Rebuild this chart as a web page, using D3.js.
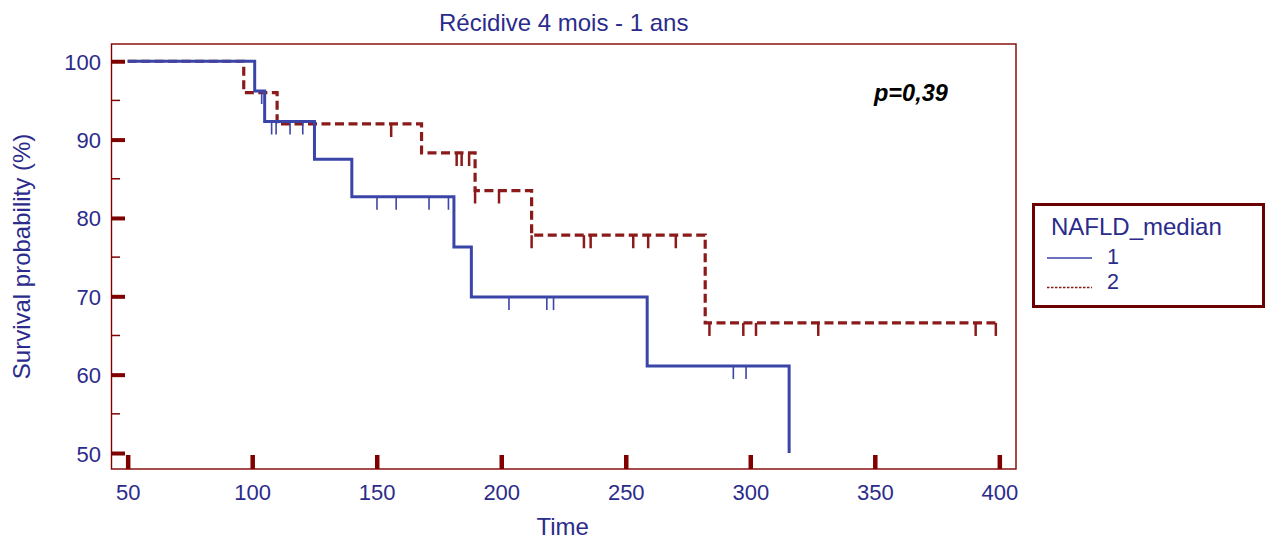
<!DOCTYPE html>
<html>
<head>
<meta charset="utf-8">
<script src="https://cdn.jsdelivr.net/npm/d3@7/dist/d3.min.js"></script>
<style>
  html, body { margin: 0; padding: 0; background: #ffffff; }
  svg { display: block; }
  text { font-family: "Liberation Sans", Arial, sans-serif; }
</style>
</head>
<body>
<svg id="chart" width="1266" height="539"></svg>
<script>
// ---------- data ----------
const chartTitle = "Récidive 4 mois - 1 ans";
const xLabel = "Time";
const yLabel = "Survival probability (%)";
const pText = "p=0,39";
const legendTitle = "NAFLD_median";
const groupNames = ["1", "2"];

const xTicks = [50, 100, 150, 200, 250, 300, 350, 400];
const yTicks = [50, 60, 70, 80, 90, 100];
const yMinorTicks = [55, 65, 75, 85, 95];

// group 1 (solid blue): step times and survival (%) after each step
const times1 = [50, 101, 105, 125, 140, 181, 188, 258.6, 315.6];
const surv1  = [100, 96.2, 92.3, 87.5, 82.7, 76.3, 69.9, 61.1, 50];
const end1 = 315.6;
const censor1 = [103.8, 107.8, 109.6, 115.2, 120.3, 150.1, 157.8, 171, 178.8,
                 203.1, 218.3, 221, 293.2, 298.3];

// group 2 (dashed red)
const times2 = [50, 96.6, 110, 168, 189.5, 212.2, 281.9];
const surv2  = [100, 96, 92, 88.3, 83.5, 77.8, 66.6];
const end2 = 398.6;
const censor2 = [155.8, 182.1, 184.1, 187.1, 189.5, 199.1, 212.2, 233.2, 235.9,
                 253, 259, 270.1, 283.6, 297.2, 302.3, 327.3, 390.5, 398.6];

// ---------- layout / style ----------
const frameColor = "#800000";
const textColor = "#2b2b8c";
const blue = "#3b45a8";
const red = "#8b1a1a";

const svg = d3.select("#chart");
const plot = { left: 111.5, right: 1016, top: 44, bottom: 469 };

const x = d3.scaleLinear().domain([43.5, 406.7]).range([plot.left, plot.right]);
const y = d3.scaleLinear().domain([47.96, 102.2]).range([plot.bottom, plot.top]);

// clip
svg.append("clipPath").attr("id", "clip").append("rect")
  .attr("x", plot.left).attr("y", plot.top)
  .attr("width", plot.right - plot.left).attr("height", plot.bottom - plot.top);

// frame
svg.append("rect")
  .attr("x", plot.left).attr("y", plot.top)
  .attr("width", plot.right - plot.left).attr("height", plot.bottom - plot.top)
  .attr("fill", "none").attr("stroke", frameColor).attr("stroke-width", 1.4);

// y axis (ticks inside)
const yAxis = d3.axisLeft(y).tickValues(yTicks).tickSize(0).tickPadding(0).tickFormat(d3.format("d"));
const gy = svg.append("g").attr("transform", `translate(${plot.left},0)`).call(yAxis);
gy.select(".domain").remove();
gy.selectAll("text").remove();
gy.selectAll(".tick").append("line")
  .attr("x1", 0).attr("x2", 13.5).attr("y1", 0).attr("y2", 0)
  .attr("stroke", frameColor).attr("stroke-width", 4);
gy.selectAll(".tick").append("text")
  .attr("x", -10.5).attr("y", 8)
  .attr("text-anchor", "end")
  .attr("fill", textColor).attr("font-size", 22)
  .text(d => d);

svg.append("g").selectAll("line").data(yMinorTicks).join("line")
  .attr("x1", plot.left).attr("x2", plot.left + 8.5)
  .attr("y1", d => y(d)).attr("y2", d => y(d))
  .attr("stroke", frameColor).attr("stroke-width", 1.5);

// x axis (ticks inside)
const xAxis = d3.axisBottom(x).tickValues(xTicks).tickSize(0).tickFormat(d3.format("d"));
const gx = svg.append("g").attr("transform", `translate(0,${plot.bottom})`).call(xAxis);
gx.select(".domain").remove();
gx.selectAll("text").remove();
gx.selectAll(".tick").append("line")
  .attr("x1", 0).attr("x2", 0).attr("y1", 0).attr("y2", -14)
  .attr("stroke", frameColor).attr("stroke-width", 4.5);
gx.selectAll(".tick").append("text")
  .attr("x", 0).attr("y", 31)
  .attr("text-anchor", "middle")
  .attr("fill", textColor).attr("font-size", 22)
  .text(d => d);

// step helpers
function stepPoints(times, surv, end) {
  const pts = times.map((t, i) => [t, surv[i]]);
  pts.push([end, surv[surv.length - 1]]);
  return pts;
}
function levelAt(times, surv, t) {
  let v = surv[0];
  for (let i = 0; i < times.length; i++) if (times[i] <= t) v = surv[i];
  return v;
}
const line = d3.line().x(d => x(d[0])).y(d => y(d[1])).curve(d3.curveStepAfter);

const curves = svg.append("g").attr("clip-path", "url(#clip)");

// group 2 first (dashed red), then group 1 over it
curves.append("path")
  .datum(stepPoints(times2, surv2, end2))
  .attr("d", line)
  .attr("fill", "none").attr("stroke", red).attr("stroke-width", 3.2)
  .attr("stroke-dasharray", "9,4.5");
curves.append("g").selectAll("line").data(censor2).join("line")
  .attr("x1", d => x(d)).attr("x2", d => x(d))
  .attr("y1", d => y(levelAt(times2, surv2, d)))
  .attr("y2", d => y(levelAt(times2, surv2, d)) + 13)
  .attr("stroke", red).attr("stroke-width", 2.5);

curves.append("path")
  .datum(stepPoints(times1, surv1, end1))
  .attr("d", line)
  .attr("fill", "none").attr("stroke", blue).attr("stroke-width", 3);
curves.append("g").selectAll("line").data(censor1).join("line")
  .attr("x1", d => x(d)).attr("x2", d => x(d))
  .attr("y1", d => y(levelAt(times1, surv1, d)))
  .attr("y2", d => y(levelAt(times1, surv1, d)) + 13)
  .attr("stroke", blue).attr("stroke-width", 1.6);

// title & axis labels
const cx = (plot.left + plot.right) / 2;
svg.append("text").attr("x", cx).attr("y", 31)
  .attr("text-anchor", "middle").attr("fill", textColor).attr("font-size", 24)
  .text(chartTitle);
svg.append("text").attr("x", cx - 1).attr("y", 535)
  .attr("text-anchor", "middle").attr("fill", textColor).attr("font-size", 24)
  .text(xLabel);
svg.append("text")
  .attr("transform", `translate(30,${(plot.top + plot.bottom) / 2}) rotate(-90)`)
  .attr("text-anchor", "middle").attr("fill", textColor).attr("font-size", 24)
  .text(yLabel);

// p-value
svg.append("text").attr("x", 874).attr("y", 101)
  .attr("fill", "#000").attr("font-size", 23.5)
  .attr("font-weight", "bold").attr("font-style", "italic")
  .text(pText);

// legend
const lg = svg.append("g");
lg.append("rect").attr("x", 1033.5).attr("y", 204.5).attr("width", 230).attr("height", 102)
  .attr("fill", "#fff").attr("stroke", "#6b0000").attr("stroke-width", 3);
lg.append("text").attr("x", 1051).attr("y", 235)
  .attr("fill", textColor).attr("font-size", 24).text(legendTitle);
const legendStyles = [
  { color: blue, width: 1.6, dash: null, ly: 258, ty: 264 },
  { color: red, width: 1.3, dash: "2.5,1.5", ly: 287.5, ty: 289 }
];
groupNames.forEach((g, i) => {
  const s = legendStyles[i];
  lg.append("line").attr("x1", 1047).attr("x2", 1092).attr("y1", s.ly).attr("y2", s.ly)
    .attr("stroke", s.color).attr("stroke-width", s.width)
    .attr("stroke-dasharray", s.dash);
  lg.append("text").attr("x", 1107).attr("y", s.ty)
    .attr("fill", textColor).attr("font-size", 21.5).text(g);
});
</script>
</body>
</html>
